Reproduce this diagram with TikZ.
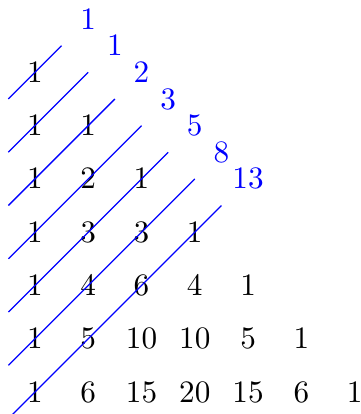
\documentclass[tikz,border=0pt]{standalone}
\usepackage{amsmath,amssymb}
\usepackage{tikz}
\usetikzlibrary{positioning,calc}
\usepackage{xcolor}

\begin{document}
\begin{tikzpicture}[x=0.6cm, y=0.6cm,
    entry/.style={inner sep=1pt},
    fib/.style={inner sep=1pt, text=blue},
    diag/.style={blue, line width=0.4pt}]
                    \useasboundingbox (-0.657,-6.414) rectangle (6.12,1.358);
                    % Pascal triangle, left aligned
                    \foreach \r/\vals in {0/{1}, 1/{1,1}, 2/{1,2,1}, 3/{1,3,3,1},
                        4/{1,4,6,4,1}, 5/{1,5,10,10,5,1}, 6/{1,6,15,20,15,6,1}}
                        \foreach \v [count=\c from 0] in \vals
                            \node[entry] (p\r-\c) at (\c,-\r) {$\v$};
                    
                    % Fibonacci sums
                    \foreach \f [count=\k] in {1,1,2,3,5,8,13}
                        \node[fib] (f\k) at ({0.5+0.5*\k},{1.5-0.5*\k}) {$\f$};
                    
                    % shallow diagonals
                    \foreach \k in {1,...,7} {
                        \coordinate (s\k) at (-0.5,{0.5-\k});
                        \coordinate (e\k) at ({0.5*\k},{1-0.5*\k});
                        \draw[diag] (s\k) -- (e\k);
                    }
                \end{tikzpicture}
\end{document}
